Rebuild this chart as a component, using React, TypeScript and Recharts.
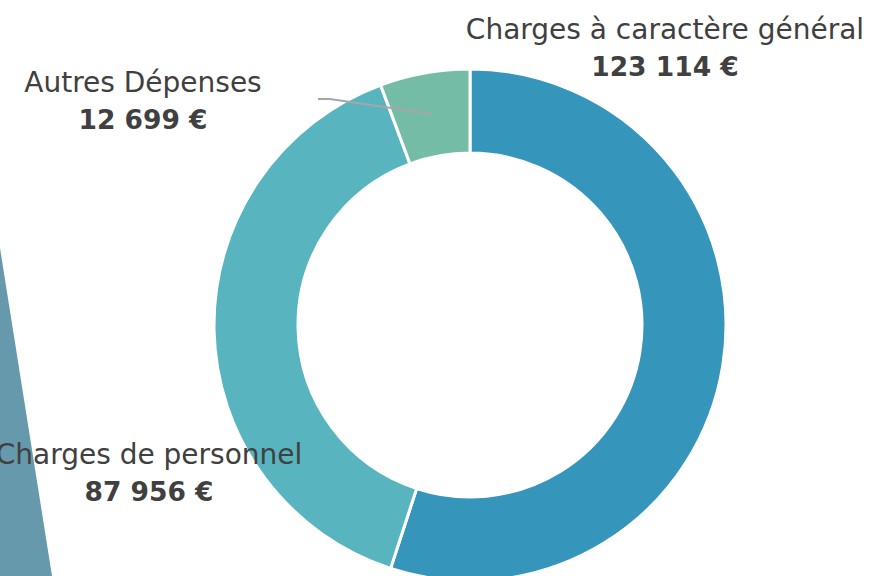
import React from 'react'
import { PieChart, Pie, Cell } from 'recharts'

const categories = ['Charges à caractère général', 'Charges de personnel', 'Autres Dépenses']
const amounts = [123114, 87956, 12699]
const valueLabels = ['123 114 €', '87 956 €', '12 699 €']
const colors = ['#3595BB', '#58B5BF', '#75BCA7']

// where each label block sits (center x, baseline of first line)
const labelPos = [
  { x: 665, y: 39 },
  { x: 149, y: 464 },
  { x: 143, y: 92 },
]

const data = categories.map((name, i) => ({ name, value: amounts[i] }))

const FONT = '"DejaVu Sans", sans-serif'

const renderLabel = (props: any) => {
  const { index } = props
  const p = labelPos[index]
  return (
    <g key={`lbl-${index}`}>
      {index === 2 && (
        <path d="M318,99 L330,99 L432,114" fill="none" stroke="#A6A6A6" strokeWidth={2} />
      )}
      <text x={p.x} y={p.y} textAnchor="middle" fill="#404040" fontSize={28} fontFamily={FONT}>
        {categories[index]}
      </text>
      <text x={p.x} y={p.y + 37} textAnchor="middle" fill="#404040" fontSize={26.5} fontWeight="bold" fontFamily={FONT}>
        {valueLabels[index]}
      </text>
    </g>
  )
}

const App: React.FC = () => {
  return (
    <div style={{ position: 'fixed', left: 0, top: 0, width: 872, height: 576, background: '#fff', overflow: 'hidden' }}>
      <svg width={872} height={576} style={{ position: 'absolute', left: 0, top: 0 }}>
        <polygon points="0,248 52,576 0,576" fill="#6699AB" />
      </svg>
      <div style={{ position: 'absolute', left: 0, top: 0 }}>
        <PieChart width={872} height={576} margin={{ top: 0, right: 0, bottom: 0, left: 0 }}>
          <Pie
            data={data}
            dataKey="value"
            cx={470}
            cy={325}
            innerRadius={172}
            outerRadius={256}
            startAngle={90}
            endAngle={-270}
            stroke="#fff"
            strokeWidth={3}
            label={renderLabel}
            labelLine={false}
            isAnimationActive={false}
          >
            {data.map((d, i) => (
              <Cell key={d.name} fill={colors[i]} />
            ))}
          </Pie>
        </PieChart>
      </div>
    </div>
  )
}

export default App
